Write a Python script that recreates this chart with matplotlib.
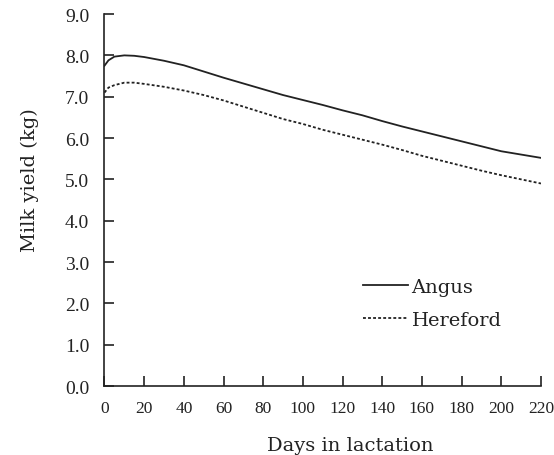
import matplotlib.pyplot as plt

days = [0, 2, 5, 10, 15, 20, 30, 40, 50, 60, 70, 80, 90, 100, 110,
        120, 130, 140, 150, 160, 170, 180, 190, 200, 210, 220]
angus = [7.75, 7.88, 7.97, 8.00, 7.99, 7.96, 7.87, 7.76, 7.61, 7.46, 7.32, 7.18, 7.04, 6.92, 6.80,
         6.67, 6.55, 6.41, 6.28, 6.16, 6.04, 5.92, 5.80, 5.68, 5.60, 5.52]
hereford = [7.10, 7.22, 7.28, 7.34, 7.34, 7.31, 7.24, 7.15, 7.04, 6.91, 6.76, 6.61, 6.46, 6.34, 6.20,
            6.08, 5.96, 5.84, 5.71, 5.57, 5.45, 5.33, 5.21, 5.10, 5.00, 4.90]

xticks = list(range(0, 221, 20))
yticks = [0, 1, 2, 3, 4, 5, 6, 7, 8, 9]

ink = '#222222'
fig = plt.figure(figsize=(5.54, 4.56), dpi=100)
ax = fig.add_axes([0.1886, 0.1513, 0.7879, 0.8157])

ax.plot(days, angus, color=ink, lw=1.3, label='Angus')
ax.plot(days, hereford, color=ink, lw=1.3, dashes=(1.6, 1.2), label='Hereford')

ax.set_xlim(0, 220)
ax.set_ylim(0, 9)
ax.spines['top'].set_visible(False)
ax.spines['right'].set_visible(False)
for s in ('left', 'bottom'):
    ax.spines[s].set_color(ink)
    ax.spines[s].set_linewidth(1.2)

ax.set_xticks(xticks)
ax.set_yticks(yticks)
ax.set_yticklabels(['%.1f' % v for v in yticks])
ax.tick_params(direction='in', length=7, width=1.2, color=ink, labelcolor=ink)
ax.tick_params(axis='x', pad=10)
ax.tick_params(axis='y', pad=11)
for lab in ax.get_xticklabels():
    lab.set_fontfamily('Liberation Serif')
    lab.set_fontsize(12.5)
for lab in ax.get_yticklabels():
    lab.set_fontfamily('Liberation Serif')
    lab.set_fontsize(14)

ax.set_xlabel('Days in lactation', family='DejaVu Serif', fontsize=14, color=ink)
ax.set_ylabel('Milk yield (kg)', family='DejaVu Serif', fontsize=14, color=ink)
ax.xaxis.set_label_coords(0.562, -0.135)
ax.yaxis.set_label_coords(-0.15, 0.556)

leg = ax.legend(loc='center left', bbox_to_anchor=(0.592, 0.222), frameon=False,
                prop={'family': 'DejaVu Serif', 'size': 14}, handlelength=2.3,
                handletextpad=0.2, labelspacing=0.75, borderpad=0, borderaxespad=0)
for t in leg.get_texts():
    t.set_color(ink)

fig.savefig('out.png', dpi=100)
